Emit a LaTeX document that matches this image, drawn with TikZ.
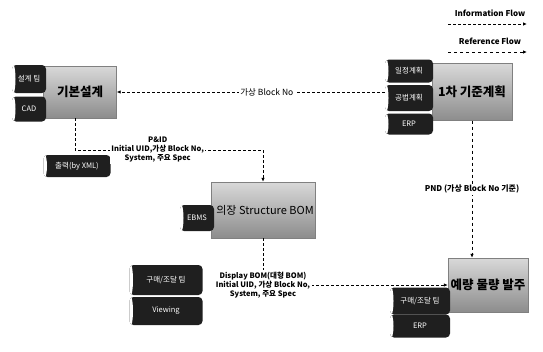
\documentclass[tikz,border=0pt]{standalone}
\usepackage{fontspec}
\setmainfont{Noto Sans CJK KR}
\usetikzlibrary{arrows.meta}

\begin{document}
\begin{tikzpicture}[x=1pt, y=-1pt, font=\fontsize{7.5}{8.5}\selectfont,
  box/.style 2 args={draw=black!50, top color=black!15, bottom color=black!45, minimum width=#1, minimum height=#2, inner sep=1pt, font=\fontsize{12.5}{14}\selectfont\bfseries},
  tab/.style 2 args={fill=black!88, text=white, rounded corners=4pt, minimum width=#1, minimum height=#2, inner sep=1pt, font=\fontsize{7.5}{8}\selectfont,
    path picture={\fill[white] (path picture bounding box.west) ellipse [x radius=3.5pt, y radius=0.6*#2];}},
  info/.style={densely dashed, line width=0.8pt, ->},
  refer/.style={dashed, line width=0.8pt, ->},
  flowlabel/.style={fill=white, align=center, inner sep=1.5pt, font=\fontsize{7.5}{9}\selectfont\bfseries},
  >={Latex[length=4pt, width=3.5pt]}]
  \useasboundingbox (0,0) rectangle (543,351);
  % legend
  \node[font=\fontsize{8}{9}\selectfont\bfseries] (infotxt) at (490,13) {Information Flow};
  \coordinate (info-s) at (448,24); \coordinate (info-e) at (527,24);
  \draw[info] (info-s) -- (info-e);
  \node[font=\fontsize{8}{9}\selectfont\bfseries] (reftxt) at (490,41) {Reference Flow};
  \coordinate (ref-s) at (448,52); \coordinate (ref-e) at (527,52);
  \draw[refer] (ref-s) -- (ref-e);
  % boxes
  \node[box={73pt}{52pt}] (basic) at (80,92) {기본설계};
  \node[box={80pt}{57pt}] (plan) at (472,92) {1차 기준계획};
  \node[box={104pt}{56pt}, font=\fontsize{11}{13}\selectfont] (sbom) at (263,210) {\hspace*{4pt}의장 Structure BOM};
  \node[box={80pt}{54pt}] (due) at (488,285) {예량 물량 발주};
  % tabs
  \node[tab={34pt}{28pt}] (bt1) at (29,79) {설계 팀};
  \node[tab={34pt}{25pt}] (bt2) at (29,109) {CAD};
  \node[tab={48pt}{23pt}] (pt1) at (409,71) {일정계획};
  \node[tab={48pt}{26pt}] (pt2) at (409,98) {공법계획};
  \node[tab={48pt}{21pt}] (pt3) at (409,124) {ERP};
  \node[tab={34pt}{26pt}] (sbt) at (197,218) {EBMS};
  \node[tab={60pt}{27pt}] (dt1) at (420,301) {구매/조달 팀};
  \node[tab={60pt}{23pt}] (dt2) at (420,326) {ERP};
  \node[tab={67pt}{22pt}] (xmlout) at (77,166) {출력(by XML)};
  \node[tab={73pt}{30pt}] (vt1) at (166,280) {구매/조달 팀};
  \node[tab={73pt}{28pt}] (vt2) at (166,311) {Viewing};
  % flows
  \draw[info] (basic.east -| pt2.west) -- node[flowlabel, pos=0.44, font=\fontsize{8.5}{10}\selectfont] {가상 Block No} (basic.east);
  \coordinate (pidbend) at (sbom.north |- 0,150);
  \draw[info] ([xshift=-5pt]basic.south) |- node[flowlabel, pos=0.72] {P\&ID\\Initial UID,가상 Block No,\\System, 주요 Spec} (pidbend) -- (sbom.north);
  \draw[refer] (plan.south) -- node[flowlabel, font=\fontsize{8}{9}\selectfont\bfseries] {PND (가상 Block No 기준)} (plan.south |- due.north);
  \draw[info] (sbom.south) |- node[flowlabel, pos=0.5] {Display BOM(대형 BOM)\\Initial UID, 가상 Block No,\\System, 주요 Spec} (due.west);
\end{tikzpicture}
\end{document}
